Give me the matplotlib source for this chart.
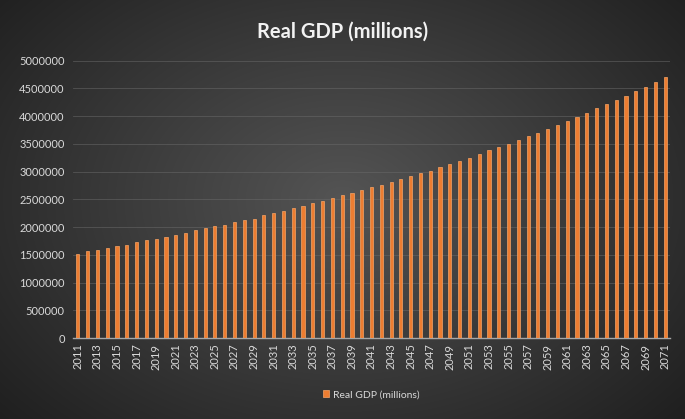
import numpy as np
import matplotlib
matplotlib.use("Agg")
import matplotlib.pyplot as plt

years = list(range(2011, 2072))
gdp = [1523000, 1565000, 1595000, 1630000, 1655000, 1685000, 1727000, 1763000, 1794000, 1818000,
       1866000, 1902000, 1940000, 1980000, 2020000, 2045000, 2097000, 2130000, 2155000, 2215000,
       2257000, 2287000, 2340000, 2377000, 2440000, 2473000, 2516000, 2580000, 2617000, 2670000,
       2715000, 2762000, 2816000, 2865000, 2913000, 2967000, 3015000, 3087000, 3130000, 3195000,
       3250000, 3320000, 3388000, 3437000, 3496000, 3568000, 3635000, 3695000, 3773000, 3840000,
       3910000, 3984000, 4060000, 4140000, 4213000, 4285000, 4368000, 4459000, 4530000, 4620000,
       4710000]
series_name = 'Real GDP (millions)'

plt.rcParams['font.family'] = ['Lato', 'DejaVu Sans']

fig = plt.figure(figsize=(6.85, 4.19), dpi=100)

# radial gradient background
bg = fig.add_axes([0, 0, 1, 1], zorder=0)
yy, xx = np.mgrid[0:419, 0:685]
r = np.sqrt(((xx - 342) / 420.0) ** 2 + ((yy - 200) / 300.0) ** 2)
shade = np.clip(0.33 - 0.19 * r, 0.12, 0.4)
bg.imshow(np.dstack([shade, shade, shade]), aspect='auto', extent=[0, 1, 0, 1])
bg.axis('off')

ax = fig.add_axes([0.1066, 0.1933, 0.8715, 0.6617], zorder=1)
ax.patch.set_alpha(0)
ax.bar(years, gdp, width=0.32, color='#ED7D31', edgecolor='#F6A466', linewidth=0.5, zorder=3)

ax.set_xlim(2010.5, 2071.5)
ax.set_ylim(0, 5000000)
ax.set_yticks(np.arange(0, 5000001, 500000))
ax.set_yticklabels([str(v) for v in range(0, 5000001, 500000)])
ax.set_xticks(years[::2])
ax.set_xticklabels([str(y) for y in years[::2]], rotation=90)
ax.tick_params(colors='#d9d9d9', labelsize=8, length=0)
ax.tick_params(axis='y', pad=6)
ax.tick_params(axis='x', pad=4)
ax.grid(axis='y', color='#6a6a6a', linewidth=0.6, alpha=0.6, zorder=0)
for s in ['top', 'right', 'left']:
    ax.spines[s].set_visible(False)
ax.spines['bottom'].set_color('#a6a6a6')
ax.spines['bottom'].set_linewidth(1.0)

fig.text(0.5, 0.925, 'Real GDP (millions)', ha='center', va='center',
         fontsize=14.5, fontweight='bold', color='#f2f2f2')

leg = ax.legend([series_name], loc='center', bbox_to_anchor=(0.5, -0.205), frameon=False,
                fontsize=7.5, handlelength=0.6, handleheight=0.6, handletextpad=0.4)
for t in leg.get_texts():
    t.set_color('#d9d9d9')

fig.savefig('out.png', dpi=100)
